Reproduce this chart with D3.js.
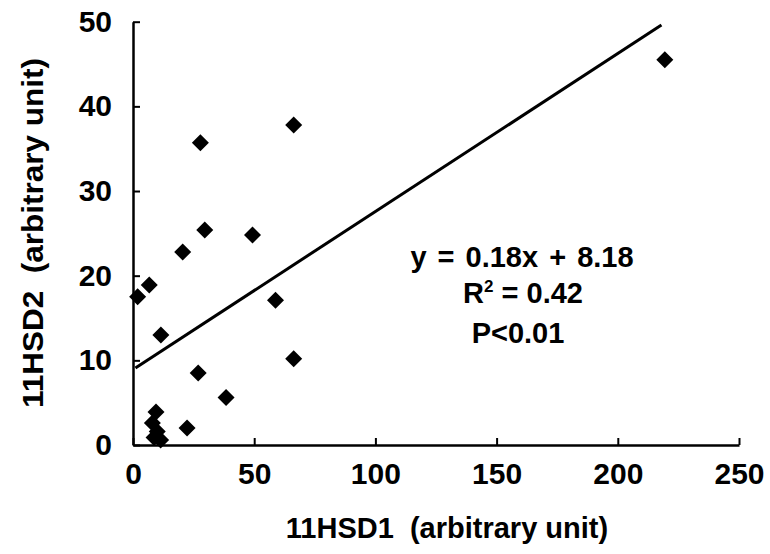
<!DOCTYPE html>
<html>
<head>
<meta charset="utf-8">
<script src="https://cdn.jsdelivr.net/npm/d3@7"></script>
<style>
  html, body { margin: 0; padding: 0; background: #fff; }
  svg { display: block; }
</style>
</head>
<body>
<div class="graph"></div>
<script>
(function () {
  'use strict';

  // values
  var xTicks = [0, 50, 100, 150, 200, 250];
  var yTicks = [0, 10, 20, 30, 40, 50];
  var hsd1 = [219.4, 66.3, 27.8, 29.6, 49.3, 20.5, 6.7, 1.9, 58.8, 11.5,
              66.3, 26.9, 38.4, 9.5, 22.3, 8.0, 10.0, 8.7, 11.4];
  var hsd2 = [45.5, 37.8, 35.7, 25.4, 24.8, 22.8, 18.9, 17.5, 17.1, 13.0,
              10.2, 8.5, 5.6, 3.9, 2.0, 2.6, 1.6, 0.9, 0.6];
  var fitX = [1, 218];
  var fitY = [9.1, 49.6];
  var xTitle = '11HSD1  (arbitrary unit)';
  var yTitle = '11HSD2  (arbitrary unit)';

  var width = 770;
  var height = 554;
  var font = '"Liberation Sans", Arial, sans-serif';

  var svg = d3.select('.graph')
    .append('svg')
    .attr('width', width)
    .attr('height', height)
    .style('background', '#fff');

  var x = d3.scaleLinear().domain([0, 250]).range([133, 739]);
  var y = d3.scaleLinear().domain([0, 50]).range([445, 21.7]);

  var styleAxis = function(g) {
    g.select('.domain')
      .attr('stroke', '#000')
      .attr('stroke-width', 2.5);
    g.selectAll('.tick line')
      .attr('stroke', '#000')
      .attr('stroke-width', 2);
    g.selectAll('.tick text')
      .attr('fill', '#000')
      .style('font-family', font)
      .style('font-weight', 'bold')
      .style('font-size', '30px');
  };

  svg.append('g')
    .attr('transform', 'translate(0,' + y(0) + ')')
    .call(d3.axisBottom(x).tickValues(xTicks).tickSizeInner(-7)
            .tickSizeOuter(0).tickPadding(18))
    .call(styleAxis);

  svg.append('g')
    .attr('transform', 'translate(' + x(0) + ',0)')
    .call(d3.axisLeft(y).tickValues(yTicks).tickSizeInner(-7)
            .tickSizeOuter(0).tickPadding(21))
    .call(styleAxis);

  // trend line
  svg.append('line')
    .attr('x1', x(fitX[0]))
    .attr('y1', y(fitY[0]))
    .attr('x2', x(fitX[1]))
    .attr('y2', y(fitY[1]))
    .attr('stroke', '#000')
    .attr('stroke-width', 3);

  var pts = hsd1.map(function(v, i) { return [v, hsd2[i]]; });
  svg.selectAll('path.pt')
    .data(pts)
    .enter().append('path')
    .attr('class', 'pt')
    .attr('d', 'M0,-8.5L8.5,0L0,8.5L-8.5,0Z')
    .attr('transform', function(d) {
      return 'translate(' + x(d[0]) + ',' + y(d[1]) + ')';
    })
    .attr('fill', '#000');

  // regression stats
  var stats = svg.append('g')
    .attr('text-anchor', 'middle')
    .style('font-family', font)
    .style('font-weight', 'bold')
    .style('font-size', '29px');

  stats.append('text')
    .attr('x', 522)
    .attr('y', 267)
    .style('word-spacing', '3px')
    .text('y = 0.18x + 8.18');

  var r2 = stats.append('text')
    .attr('x', 523)
    .attr('y', 303);
  r2.append('tspan').text('R');
  r2.append('tspan')
    .attr('dy', -11)
    .style('font-size', '17px')
    .text('2');
  r2.append('tspan')
    .attr('dy', 11)
    .text(' = 0.42');

  stats.append('text')
    .attr('x', 518)
    .attr('y', 343)
    .text('P<0.01');

  // axis titles
  svg.append('text')
    .attr('x', 447)
    .attr('y', 538)
    .attr('text-anchor', 'middle')
    .style('white-space', 'pre')
    .style('font-family', font)
    .style('font-weight', 'bold')
    .style('font-size', '29px')
    .text(xTitle);

  svg.append('text')
    .attr('transform', 'translate(43,233) rotate(-90)')
    .attr('text-anchor', 'middle')
    .attr('textLength', 350)
    .attr('lengthAdjust', 'spacingAndGlyphs')
    .style('white-space', 'pre')
    .style('font-family', font)
    .style('font-weight', 'bold')
    .style('font-size', '29px')
    .text(yTitle);
})();
</script>
</body>
</html>
